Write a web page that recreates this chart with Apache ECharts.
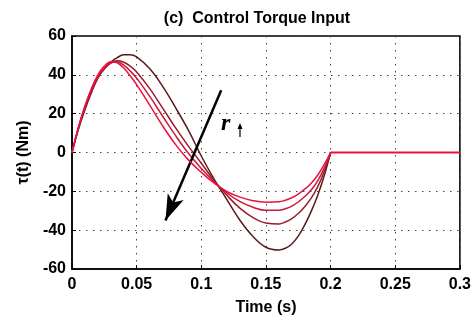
<!DOCTYPE html>
<html>
<head>
<meta charset="utf-8">
<script src="https://cdn.jsdelivr.net/npm/echarts@6/dist/echarts.min.js"></script>
<style>
  html, body { margin: 0; padding: 0; background: #fff; }
  #chart { width: 474px; height: 321px; }
</style>
</head>
<body>
<div id="chart"></div>
<script>
// time samples (s), shared by all four torque curves
const timeSteps = [0, 0.005, 0.01, 0.015, 0.02, 0.025, 0.03, 0.035, 0.04, 0.045, 0.05,
  0.06, 0.07, 0.08, 0.09, 0.1, 0.11, 0.12, 0.13, 0.14, 0.15, 0.16,
  0.165, 0.17, 0.175, 0.18, 0.185, 0.19, 0.195, 0.2];

// torque (Nm), darkest curve first
const torqueR1 = [0, 12, 22, 30.8, 38.3, 43.2, 46.6, 48.9, 50.3, 50.4, 49.2,
  43.2, 34.2, 23.2, 11.5, -1.8, -13.8, -24.5, -35, -43.3, -48.8, -50.2,
  -49.3, -47.1, -43.1, -37.3, -30.3, -22.1, -12.1, 0];
const torqueR2 = [0, 12.5, 23, 31.5, 38.5, 43, 46, 47.2, 46.5, 44.5, 41.5,
  33, 23, 12.8, 3.3, -5.5, -14.5, -22.2, -28.8, -33.5, -36.3, -36.8,
  -35.8, -34, -31.4, -27.9, -23.5, -17.7, -9.9, 0];
const torqueR3 = [0, 13, 23.5, 32, 39, 43.5, 46.2, 46.7, 45, 42, 38.3,
  29, 18.8, 8.8, -0.4, -8.2, -15.2, -21, -25.3, -28.2, -29.8, -29.8,
  -29, -27.6, -25.5, -22.7, -19.3, -14.6, -8.2, 0];
const torqueR4 = [0, 13, 24, 33, 40, 44.5, 46.8, 46.2, 43.5, 39.5, 35,
  24.5, 13.8, 4.2, -3.8, -10.2, -15.8, -20.2, -23, -24.8, -25.6, -25.4,
  -24.6, -23.3, -21.4, -18.9, -15.8, -11.7, -6.3, 0];

// after 0.2 s all inputs are zero
const tailTime = [0.2, 0.3];
const tailTorque = [0, 0];

const xTickLabels = ["0", "0.05", "0.1", "0.15", "0.2", "0.25", "0.3"];
const yTickLabels = ["-60", "-40", "-20", "0", "20", "40", "60"];

// annotation arrow (data units): tail -> tip
const arrowFrom = [0.1154, 32];
const arrowTo = [0.0723, -35];

const curveColors = ["#5a1a1c", "#9a1c2c", "#cc1838", "#e8123e"];

const chart = echarts.init(document.getElementById("chart"));

const pairs = (xs, ys) => xs.map((x, i) => [x, ys[i]]);
const curves = [torqueR1, torqueR2, torqueR3, torqueR4];

const labelFont = {
  color: "#000",
  fontFamily: "Liberation Sans",
  fontWeight: "bold",
  fontSize: 16
};

const series = curves.map((vals, i) => ({
  type: "line",
  data: pairs(timeSteps, vals),
  smooth: 0.4,
  showSymbol: false,
  lineStyle: { color: curveColors[i], width: 1.5 },
  z: 2 + i
}));

series.push({
  type: "line",
  data: pairs(tailTime, tailTorque),
  showSymbol: false,
  lineStyle: { color: curveColors[3], width: 2 },
  z: 6,
  markLine: {
    silent: true,
    symbol: ["none", "arrow"],
    symbolSize: [13, 26],
    label: { show: false },
    lineStyle: { color: "#000", width: 2.5, type: "solid" },
    data: [[{ coord: arrowFrom }, { coord: arrowTo }]]
  }
});

chart.setOption({
  animation: false,
  title: {
    text: "(c)  Control Torque Input",
    left: 252,
    top: 6,
    textAlign: "center",
    textStyle: { color: "#000", fontFamily: "Liberation Sans", fontWeight: "bold", fontSize: 16 }
  },
  grid: {
    left: 72,
    right: 12,
    top: 36,
    bottom: 45,
    show: true,
    borderColor: "#000",
    borderWidth: 1.5
  },
  xAxis: {
    type: "value",
    min: 0,
    max: 0.3,
    interval: 0.05,
    name: "Time (s)",
    nameLocation: "middle",
    nameGap: 31,
    nameTextStyle: labelFont,
    axisLine: { show: true, onZero: false, lineStyle: { color: "#000", width: 1.5 } },
    axisTick: { show: true, inside: true, length: 4, lineStyle: { color: "#000" } },
    axisLabel: Object.assign({}, labelFont, {
      margin: 8,
      formatter: (v) => xTickLabels[Math.round(v / 0.05)]
    }),
    splitLine: { show: true, lineStyle: { color: "#444", width: 1, type: [1.5, 5.5] } }
  },
  yAxis: {
    type: "value",
    min: -60,
    max: 60,
    interval: 20,
    name: "τ(t) (Nm)",
    nameLocation: "middle",
    nameGap: 39,
    nameTextStyle: labelFont,
    axisLine: { show: true, onZero: false, lineStyle: { color: "#000", width: 1.5 } },
    axisTick: { show: true, inside: true, length: 4, lineStyle: { color: "#000" } },
    axisLabel: Object.assign({}, labelFont, {
      margin: 6,
      formatter: (v) => yTickLabels[Math.round((v + 60) / 20)]
    }),
    splitLine: { show: true, lineStyle: { color: "#444", width: 1, type: [1.5, 5.5] } }
  },
  graphic: [
    {
      type: "text",
      left: 221,
      top: 112,
      style: {
        text: "r",
        fill: "#000",
        font: "italic bold 24px 'Liberation Serif'"
      }
    },
    {
      type: "line",
      shape: { x1: 240, y1: 137, x2: 240, y2: 128 },
      style: { stroke: "#000", lineWidth: 1.2 }
    },
    {
      type: "polygon",
      shape: { points: [[237.5, 129], [242.5, 129], [240, 123]] },
      style: { fill: "#000" }
    }
  ],
  series: series
});
</script>
</body>
</html>
